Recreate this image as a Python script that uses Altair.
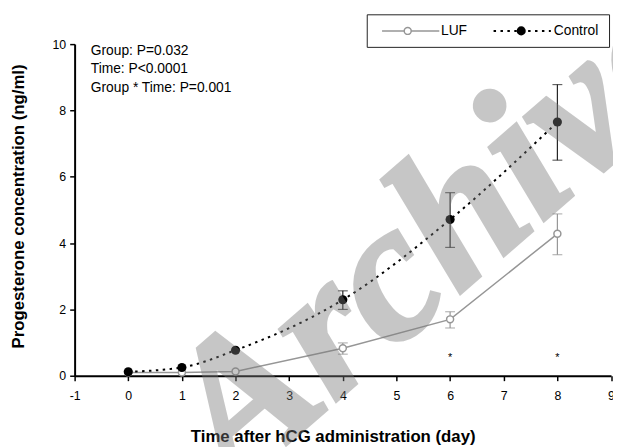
import altair as alt
import pandas as pd

# ---- data ----
days = [0, 1, 2, 4, 6, 8]
luf_mean = [0.10, 0.10, 0.13, 0.83, 1.70, 4.28]
ctl_mean = [0.12, 0.25, 0.77, 2.29, 4.71, 7.65]

err_days = [4, 6, 8]
luf_lo = [0.65, 1.44, 3.65]
luf_hi = [0.99, 1.93, 4.88]
ctl_lo = [2.00, 3.87, 6.50]
ctl_hi = [2.56, 5.52, 8.78]

star_days = [6, 8]
star_y = [0.43, 0.43]

stats_text = ["Group: P=0.032", "Time: P<0.0001", "Group * Time: P=0.001"]
stats_x = [-0.70, -0.70, -0.70]
stats_y = [9.80, 9.24, 8.68]

x_ticks = list(range(-1, 10))
y_ticks = [0, 2, 4, 6, 8, 10]

FONT = "Liberation Sans"
GRAY = "#969696"

luf = pd.DataFrame({"day": days, "val": luf_mean})
ctl = pd.DataFrame({"day": days, "val": ctl_mean})
luf_err = pd.DataFrame({"day": err_days, "lo": luf_lo, "hi": luf_hi})
ctl_err = pd.DataFrame({"day": err_days, "lo": ctl_lo, "hi": ctl_hi})
stars = pd.DataFrame({"day": star_days, "val": star_y})
stats = pd.DataFrame({"t": stats_text, "x": stats_x, "y": stats_y})
one = pd.DataFrame({"a": [0]})

xs = alt.Scale(domain=[-1, 9], nice=False, zero=False)
ys = alt.Scale(domain=[0, 10], nice=False)

X = alt.X("day:Q", scale=xs, axis=alt.Axis(
    values=x_ticks, title="Time after hCG administration (day)",
    labelExpr="'' + datum.value",
    titleX=261.5, titleY=62, titleAlign="center", titleBaseline="middle",
    titleAnchor="start", labelPadding=9, labelFlush=False))
Y = alt.Y("val:Q", scale=ys, axis=alt.Axis(
    values=y_ticks, title="Progesterone concentration (ng/ml)",
    titleX=-57, titleY=164, titleAngle=270, titleAlign="center",
    titleBaseline="middle", titleAnchor="start", labelPadding=4))

luf_line = alt.Chart(luf).mark_line(color=GRAY, strokeWidth=1.5).encode(x=X, y=Y)
ctl_line = alt.Chart(ctl).mark_line(color="black", strokeWidth=2, strokeDash=[2.5, 4.5],
                                     interpolate="monotone").encode(x="day:Q", y="val:Q")

def errbars(df, color):
    base = alt.Chart(df)
    r = base.mark_rule(color=color, strokeWidth=1.2).encode(x="day:Q", y="lo:Q", y2="hi:Q")
    t1 = base.mark_tick(color=color, orient="horizontal", size=10, thickness=1.2).encode(x="day:Q", y="lo:Q")
    t2 = base.mark_tick(color=color, orient="horizontal", size=10, thickness=1.2).encode(x="day:Q", y="hi:Q")
    return r + t1 + t2

luf_pts = alt.Chart(luf).mark_point(shape="circle", filled=True, fill="white", stroke=GRAY,
                                    strokeWidth=1.5, size=50, opacity=1).encode(x="day:Q", y="val:Q")
ctl_pts = alt.Chart(ctl).mark_point(shape="circle", filled=True, color="black",
                                    size=85, opacity=1).encode(x="day:Q", y="val:Q")

star_txt = alt.Chart(stars).mark_text(text="*", fontSize=11, font=FONT, color="black",
                                      baseline="alphabetic").encode(x="day:Q", y="val:Q")

stats_txt = alt.Chart(stats).mark_text(fontSize=14, font=FONT, align="left", baseline="middle",
                                       color="black").encode(x="x:Q", y="y:Q", text="t:N")

# ---- legend box ----
LY = -13.4
leg_box = alt.Chart(one).mark_rect(fill="white", stroke="#222", strokeWidth=1).encode(
    x=alt.value(296.5), x2=alt.value(542), y=alt.value(-29.7), y2=alt.value(3.3))
leg_luf_line = alt.Chart(one).mark_rule(color=GRAY, strokeWidth=1.5).encode(
    x=alt.value(311.5), x2=alt.value(369.5), y=alt.value(LY))
leg_luf_pt = alt.Chart(one).mark_point(shape="circle", filled=True, fill="white", stroke=GRAY,
                                       strokeWidth=1.5, size=50, opacity=1).encode(
    x=alt.value(337.5), y=alt.value(LY))
leg_luf_txt = alt.Chart(one).mark_text(text="LUF", fontSize=14, font=FONT, align="left",
                                       baseline="middle").encode(x=alt.value(371.2), y=alt.value(LY))
leg_ctl_line = alt.Chart(one).mark_rule(color="black", strokeWidth=2, strokeDash=[2.5, 4.5]).encode(
    x=alt.value(424.5), x2=alt.value(482.5), y=alt.value(LY))
leg_ctl_pt = alt.Chart(one).mark_point(shape="circle", filled=True, color="black", size=85,
                                       opacity=1).encode(x=alt.value(452.5), y=alt.value(LY))
leg_ctl_txt = alt.Chart(one).mark_text(text="Control", fontSize=14, font=FONT, align="left",
                                       baseline="middle").encode(x=alt.value(485.5), y=alt.value(LY))

# ---- watermark ----
wm = pd.DataFrame({"t": ["Archive"], "x": [5.72], "y": [4.2]})
watermark = alt.Chart(wm).mark_text(font="Liberation Serif", fontStyle="italic", fontWeight="bold",
                                    fontSize=200, angle=319, align="center", baseline="middle",
                                    color="#7a7a7a", stroke="#7a7a7a", strokeWidth=4,
                                    opacity=0.42).encode(
    x="x:Q", y="y:Q", text="t:N")

chart = alt.layer(
    luf_line, ctl_line,
    errbars(luf_err, GRAY), errbars(ctl_err, "#222"),
    luf_pts, ctl_pts, star_txt, stats_txt,
    leg_box, leg_luf_line, leg_luf_pt, leg_luf_txt, leg_ctl_line, leg_ctl_pt, leg_ctl_txt,
    watermark,
).properties(
    width=543.5, height=336,
    autosize=alt.AutoSizeParams(type="none"),
    padding={"left": 67.5, "top": 33.7, "right": 2, "bottom": 69},
).configure_view(stroke=None).configure_axis(
    grid=False, domainColor="black", domainWidth=2, tickColor="black", tickWidth=1.5,
    tickSize=5, labelFont=FONT, labelFontSize=12.5, labelColor="black",
    titleFont=FONT, titleFontSize=17, titleFontWeight="bold", titleColor="black",
)

chart.save("out.html", embed_options={"renderer": "svg", "actions": False})
